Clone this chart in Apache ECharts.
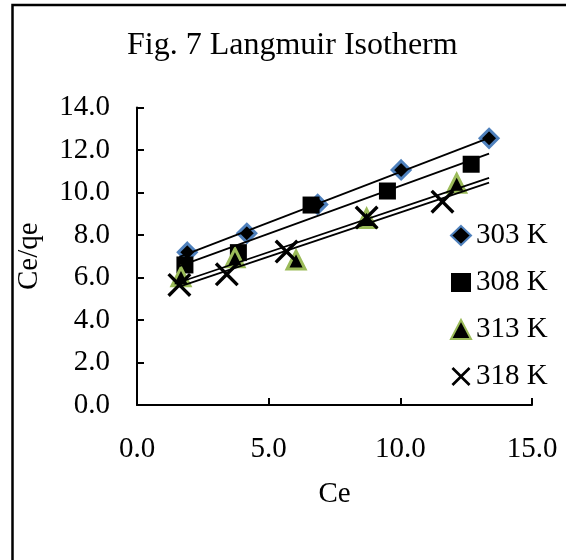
<!DOCTYPE html>
<html>
<head>
<meta charset="utf-8">
<title>Fig. 7 Langmuir Isotherm</title>
<script src="https://cdn.jsdelivr.net/npm/echarts@6/dist/echarts.min.js"></script>
<style>
  html, body { margin: 0; padding: 0; background: #fff; }
  #chart { width: 566px; height: 560px; }
</style>
</head>
<body>
<div id="chart"></div>
<script>
// Langmuir isotherm: Ce vs Ce/qe at four temperatures
const seriesNames = ['303 K', '308 K', '313 K', '318 K'];

const ce303 = [1.91, 4.17, 6.86, 10.03, 13.37];
const q303  = [7.19, 8.08, 9.44, 11.06, 12.55];

const ce308 = [1.82, 3.85, 6.61, 9.51, 12.69];
const q308  = [6.59, 7.17, 9.41, 10.07, 11.33];

const ce313 = [1.67, 3.72, 6.04, 8.72, 12.14];
const q313  = [6.04, 6.93, 6.82, 8.78, 10.43];

const ce318 = [1.61, 3.41, 5.68, 8.72, 11.60];
const q318  = [5.65, 6.15, 7.22, 8.82, 9.57];

const xTicks = [0, 5, 10, 15];
const yTicks = [0, 2, 4, 6, 8, 10, 12, 14];

const FONT = "'Liberation Serif', 'Times New Roman', serif";

function pairs(xs, ys) { return xs.map((x, i) => [x, ys[i]]); }

// least-squares straight line through one data set
function fit(xs, ys) {
  const n = xs.length;
  const mx = xs.reduce((a, b) => a + b, 0) / n;
  const my = ys.reduce((a, b) => a + b, 0) / n;
  let sxy = 0, sxx = 0;
  for (let i = 0; i < n; i++) {
    sxy += (xs[i] - mx) * (ys[i] - my);
    sxx += (xs[i] - mx) * (xs[i] - mx);
  }
  const slope = sxy / sxx;
  return { slope, intercept: my - slope * mx };
}

const allCe = [].concat(ce303, ce308, ce313, ce318);
const xLo = Math.min.apply(null, allCe);
const xHi = Math.max.apply(null, allCe);

function trend(xs, ys) {
  const f = fit(xs, ys);
  return [[xLo, f.intercept + f.slope * xLo], [xHi, f.intercept + f.slope * xHi]];
}

const crossPath = 'path://M0,1 L1,0 L5,4 L9,0 L10,1 L6,5 L10,9 L9,10 L5,6 L1,10 L0,9 L4,5 Z';

const sets = [
  { name: seriesNames[0], xs: ce303, ys: q303, symbol: 'diamond', size: 18,
    style: { color: '#000', borderColor: '#4F81BD', borderWidth: 3, opacity: 1 } },
  { name: seriesNames[1], xs: ce308, ys: q308, symbol: 'rect', size: 17,
    style: { color: '#000', borderColor: '#000', borderWidth: 0, opacity: 1 } },
  { name: seriesNames[2], xs: ce313, ys: q313, symbol: 'triangle', size: 18,
    style: { color: '#000', borderColor: '#9BBB59', borderWidth: 3, opacity: 1 } },
  { name: seriesNames[3], xs: ce318, ys: q318, symbol: crossPath, size: 24,
    style: { color: '#000', borderWidth: 0, opacity: 1 } }
];

const series = [];
sets.forEach(s => {
  series.push({
    name: s.name,
    type: 'scatter',
    symbol: s.symbol,
    symbolSize: s.size,
    itemStyle: s.style,
    data: pairs(s.xs, s.ys),
    z: 3
  });
});
sets.forEach(s => {
  series.push({
    type: 'line',
    data: trend(s.xs, s.ys),
    showSymbol: false,
    symbol: 'none',
    lineStyle: { color: '#000', width: 1.8 },
    silent: true,
    z: 4
  });
});

const chart = echarts.init(document.getElementById('chart'), null, { renderer: 'canvas' });

chart.setOption({
  animation: false,
  backgroundColor: '#fff',
  title: {
    text: 'Fig. 7 Langmuir Isotherm',
    left: 122,
    top: 25,
    textStyle: { fontFamily: FONT, fontSize: 32, fontWeight: 'normal', color: '#000' }
  },
  graphic: [{
    type: 'rect',
    shape: { x: 12.5, y: 5, width: 700, height: 700 },
    style: { fill: 'none', stroke: '#000', lineWidth: 2.5 },
    silent: true,
    z: 10
  }],
  legend: {
    data: seriesNames,
    orient: 'vertical',
    left: 445,
    top: 216,
    itemWidth: 20,
    itemHeight: 19,
    itemGap: 18,
    textStyle: { fontFamily: FONT, fontSize: 29, color: '#000', lineHeight: 29 }
  },
  grid: { left: 137, right: 34, top: 107.5, bottom: 155 },
  xAxis: {
    type: 'value',
    min: xTicks[0],
    max: xTicks[xTicks.length - 1],
    interval: xTicks[1] - xTicks[0],
    name: 'Ce',
    nameLocation: 'middle',
    nameGap: 75,
    nameTextStyle: { fontFamily: FONT, fontSize: 29, color: '#000' },
    axisLine: { lineStyle: { color: '#000', width: 2 } },
    axisTick: { inside: true, length: 7, lineStyle: { color: '#000', width: 2 } },
    axisLabel: { fontFamily: FONT, fontSize: 29, color: '#000', margin: 30,
      formatter: v => v.toFixed(1) },
    splitLine: { show: false }
  },
  yAxis: {
    type: 'value',
    min: yTicks[0],
    max: yTicks[yTicks.length - 1],
    interval: yTicks[1] - yTicks[0],
    name: 'Ce/qe',
    nameLocation: 'middle',
    nameGap: 93,
    nameTextStyle: { fontFamily: FONT, fontSize: 29, color: '#000' },
    axisLine: { lineStyle: { color: '#000', width: 2 } },
    axisTick: { inside: true, length: 7, lineStyle: { color: '#000', width: 2 } },
    axisLabel: { fontFamily: FONT, fontSize: 29, color: '#000', margin: 27,
      formatter: v => v.toFixed(1) },
    splitLine: { show: false }
  },
  series: series
});
</script>
</body>
</html>
